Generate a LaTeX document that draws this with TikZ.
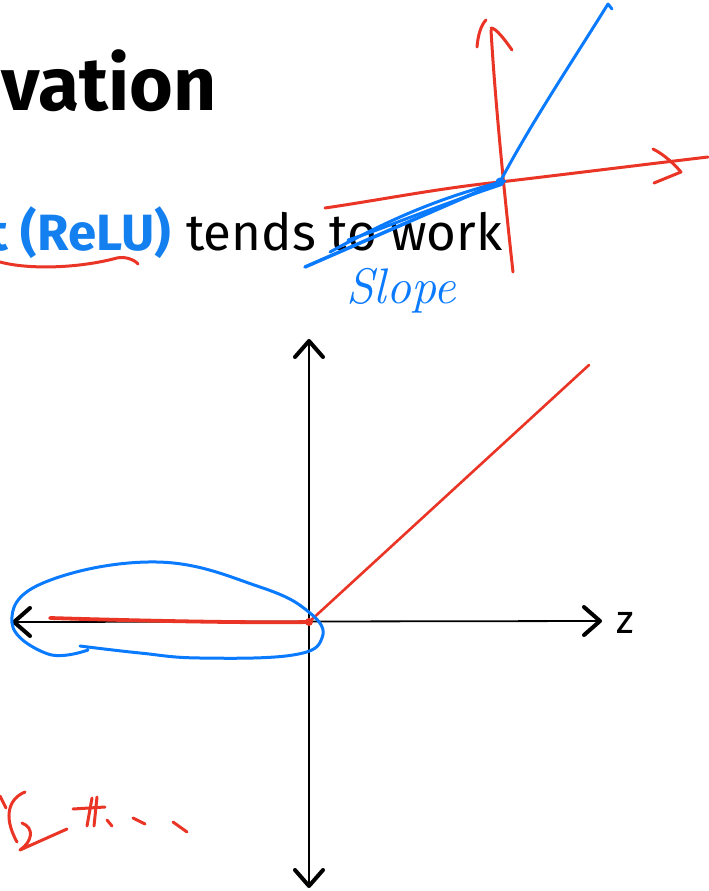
\documentclass[tikz,border=0pt]{standalone}
\usepackage{fontspec}
\newfontfamily\fira{Fira Sans}
\usetikzlibrary{arrows.meta}
\definecolor{inkred}{RGB}{234,53,38}
\definecolor{inkblue}{RGB}{10,122,255}
\definecolor{textblue}{RGB}{20,128,240}

\begin{document}
\begin{tikzpicture}[x=1pt,y=-1pt,
    barb/.tip={Straight Barb[length=16pt,width=28pt,line width=4pt,round]},
    axis/.style={line width=1.8pt, barb-barb},
    redpen/.style={inkred, line width=3pt, line cap=round, line join=round},
    bluepen/.style={inkblue, line width=3pt, line cap=round, line join=round},
    txt/.style={inner sep=0pt, anchor=base west}]
    \useasboundingbox (0,0) rectangle (709,891);

    \node[txt, font=\fira\bfseries\fontsize{75}{75}\selectfont] (title) at (1,110) {vation};
    \node[txt, anchor=base east, textblue, font=\fira\bfseries\fontsize{51}{51}\selectfont] (relu) at (171,250) {t (ReLU)};
    \node[txt, font=\fira\fontsize{51}{51}\selectfont] (tends) at (186,250) {tends to work};
    \node[txt, inkblue, font=\itshape\fontsize{50}{50}\selectfont] (slope) at (346,303) {Slope};

    \coordinate (O) at (309,622);
    \coordinate (ytop) at (309,339);
    \coordinate (ybot) at (309,888);
    \coordinate (xl) at (12,622);
    \coordinate (xr) at (602,621);
    \draw[axis] (ybot) -- (ytop);
    \draw[axis] (xl) -- (xr);
    \node[txt, font=\fira\fontsize{40}{40}\selectfont] (zlab) at (616,633) {z};

    \draw[redpen, line width=2.6pt] (O) -- (589,365);
    \draw[redpen, line width=3.8pt] (50,618) .. controls (150,621) and (250,623) .. (O);
    \fill[inkred] (O) circle (4pt);
    \draw[bluepen] plot[smooth, tension=0.7] coordinates {(80,646) (140,653) (200,658) (293,655) (322,638) (310,613) (260,587) (157,562) (43,583) (12,623) (48,654) (88,650)};

    \draw[redpen] (0,262) .. controls (30,270) and (80,268) .. (117,258) .. controls (125,256) and (135,260) .. (138,264);

    \coordinate (P) at (500,182);
    \draw[redpen] (513,272) .. controls (505,200) and (495,100) .. (491,30);
    \draw[redpen] (477,47) .. controls (478,35) and (481,25) .. (486,20);
    \draw[redpen] (491,28) .. controls (496,28) and (505,40) .. (512,50);
    \draw[redpen] (325,208) .. controls (380,200) and (440,188) .. (P) .. controls (560,175) and (640,165) .. (708,157);
    \draw[redpen] (653,149) .. controls (665,155) and (675,165) .. (681,172) -- (654,183);
    \draw[bluepen] (612,9) -- (608,4) .. controls (570,65) and (530,125) .. (P);
    \draw[bluepen, line width=3.5pt] (P) -- (305,267);
    \draw[bluepen] (505,181) .. controls (430,200) and (380,225) .. (330,252) -- (352,240);
    \draw[bluepen] (500,185) .. controls (420,212) and (380,230) .. (348,240);
    \fill[inkblue] (P) circle (4.5pt);

    \draw[redpen] (25,792) .. controls (10,798) and (2,815) .. (17,842);
    \draw[redpen] (0,796) -- (6,808);
    \draw[redpen] (22,823) .. controls (35,828) and (32,842) .. (20,850) -- (67,829);
    \draw[redpen] (73,809) -- (105,807);
    \draw[redpen] (92,798) -- (87,826);
    \draw[redpen] (97,797) -- (94,826);
    \draw[redpen] (107,820) -- (112,826);
    \draw[redpen] (133,818) -- (145,824);
    \draw[redpen] (173,822) -- (187,832);
\end{tikzpicture}
\end{document}
